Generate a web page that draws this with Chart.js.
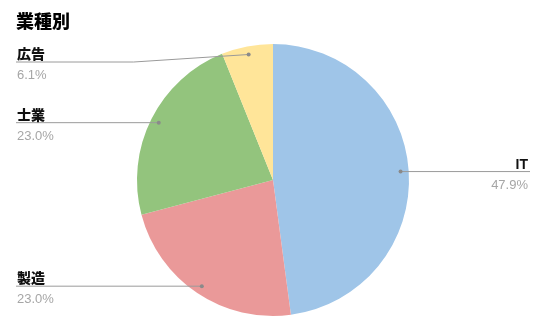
<!DOCTYPE html>
<html>
<head>
<meta charset="utf-8">
<script src="https://cdn.jsdelivr.net/npm/chart.js@4"></script>
<style>
html,body{margin:0;padding:0;background:#fff;}
#wrap{width:550px;height:332px;position:relative;}
</style>
</head>
<body>
<div id="wrap"><canvas id="c" width="550" height="332"></canvas></div>
<script>
const chartTitle = '業種別';
const categories = ['IT', '製造', '士業', '広告'];
const values = [47.9, 23.0, 23.0, 6.1];
const colors = ['#9fc5e8', '#ea9999', '#93c47d', '#ffe599'];

const FONT = '"Liberation Sans", Arial, "Noto Sans CJK JP", sans-serif';
const CJK_FONT = '"Noto Sans CJK JP", "Liberation Sans", sans-serif';

function isLatin(s) { return /^[\x00-\x7f]*$/.test(s); }

const labelPlugin = {
  id: 'calloutLabels',
  afterDraw(chart) {
    const ctx = chart.ctx;
    ctx.save();
    // title
    ctx.fillStyle = '#000';
    ctx.font = '900 18px ' + CJK_FONT;
    ctx.textBaseline = 'alphabetic';
    ctx.textAlign = 'left';
    ctx.fillText(chartTitle, 16, 28);

    const meta = chart.getDatasetMeta(0);
    const total = values.reduce((a, b) => a + b, 0);
    meta.data.forEach((arc, i) => {
      const p = arc.getProps(['x', 'y', 'startAngle', 'endAngle', 'outerRadius'], true);
      const mid = (p.startAngle + p.endAngle) / 2;
      const r = p.outerRadius * 0.94;
      const px = p.x + Math.cos(mid) * r;
      const py = p.y + Math.sin(mid) * r;
      const right = Math.cos(mid) >= 0;
      const ly = Math.max(py, 62);
      const pct = (values[i] / total * 100).toFixed(1) + '%';

      ctx.strokeStyle = '#9a9a9a';
      ctx.lineWidth = 1;
      ctx.beginPath();
      if (right) {
        ctx.moveTo(px, py);
        ctx.lineTo(530, ly);
      } else {
        ctx.moveTo(16, ly);
        if (Math.abs(ly - py) > 1) {
          ctx.lineTo(px - 115, ly);
        }
        ctx.lineTo(px, py);
      }
      ctx.stroke();
      ctx.fillStyle = '#8a8a8a';
      ctx.beginPath();
      ctx.arc(px, py, 2, 0, Math.PI * 2);
      ctx.fill();

      const tx = right ? 528 : 17;
      ctx.textAlign = right ? 'right' : 'left';
      ctx.fillStyle = '#111';
      ctx.font = (isLatin(categories[i]) ? 'bold 14px ' + FONT : '900 14px ' + CJK_FONT);
      ctx.fillText(categories[i], tx, ly - 3);
      ctx.fillStyle = '#a6a6a6';
      ctx.font = '13px ' + FONT;
      ctx.fillText(pct, tx, ly + 17);
    });
    ctx.restore();
  }
};

new Chart(document.getElementById('c'), {
  type: 'pie',
  data: {
    labels: categories,
    datasets: [{
      data: values,
      backgroundColor: colors,
      borderWidth: 0,
      hoverOffset: 0
    }]
  },
  options: {
    responsive: false,
    animation: false,
    layout: { padding: { top: 44, bottom: 16, left: 137, right: 141 } },
    plugins: {
      legend: { display: false },
      tooltip: { enabled: false },
      title: { display: false }
    },
    events: []
  },
  plugins: [labelPlugin]
});
</script>
</body>
</html>
